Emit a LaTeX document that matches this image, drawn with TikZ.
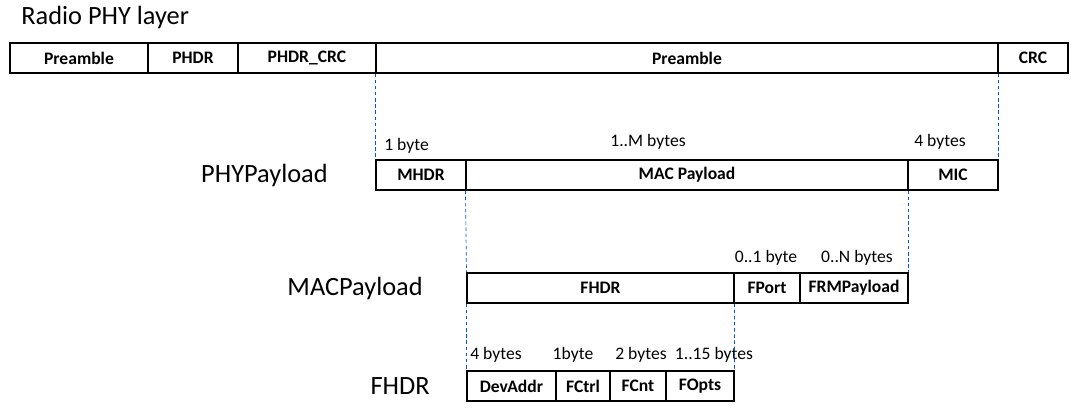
\documentclass[tikz,border=0pt]{standalone}
\usepackage{fontspec}
\setmainfont{Carlito}
\tikzset{
  fieldbox/.style={draw, line width=0.6pt, minimum height=0.6cm, inner sep=0pt,
    font=\bfseries\fontsize{10}{12}\selectfont},
  sizelbl/.style={font=\fontsize{10}{12}\selectfont, inner sep=0pt},
  layerlbl/.style={font=\fontsize{15}{18}\selectfont, inner sep=0pt},
  guide/.style={draw=blue!70!cyan, dash pattern=on 2pt off 1.5pt, line width=0.4pt}
}
% one field of a frame: name, left x, right x, centre y, text
\newcommand{\field}[5]{%
  \node[fieldbox, minimum width={(#3-#2)*0.02cm}] (#1) at ({(#2+#3)/2},#4) {#5};%
}

\begin{document}
\begin{tikzpicture}[x=0.02cm, y=-0.02cm]
  \useasboundingbox (0,0) rectangle (1071,413);

  % radio PHY layer
  \node[layerlbl, anchor=west] (radio) at (21,17) {Radio PHY layer};
  \field{pre}{10}{148}{58}{Preamble}
  \field{phdr}{148}{238}{58}{PHDR}
  \field{phdrcrc}{238}{376}{58}{PHDR\_CRC}
  \field{phypl}{376}{998}{58}{Preamble}
  \field{crc}{998}{1068}{58}{CRC}

  % PHYPayload
  \node[layerlbl, anchor=east] (phylbl) at (328,175) {PHYPayload};
  \field{mhdr}{376}{466}{175}{MHDR}
  \field{macpl}{466}{908}{175}{MAC Payload}
  \field{mic}{908}{998}{175}{MIC}
  \node[sizelbl, anchor=west] (szmhdr) at (384,146) {1 byte};
  \node[sizelbl] (szmacpl) at (648,142) {1..M bytes};
  \node[sizelbl] (szmic) at (940,142) {4 bytes};

  % MACPayload
  \node[layerlbl, anchor=east] (maclbl) at (423,288) {MACPayload};
  \field{fhdr}{467}{734}{288}{FHDR}
  \field{fport}{734}{800}{288}{FPort}
  \field{frmpl}{800}{908}{288}{FRMPayload}
  \node[sizelbl] (szfport) at (766,258) {0..1 byte};
  \node[sizelbl] (szfrmpl) at (857,258) {0..N bytes};

  % FHDR
  \node[layerlbl, anchor=east] (fhdrlbl) at (430,386) {FHDR};
  \field{devaddr}{467}{556}{386}{DevAddr}
  \field{fctrl}{556}{610}{386}{FCtrl}
  \field{fcnt}{610}{666}{386}{FCnt}
  \field{fopts}{666}{734}{386}{FOpts}
  \node[sizelbl, anchor=west] (szdevaddr) at (470,355) {4 bytes};
  \node[sizelbl] (szfctrl) at (573,355) {1byte};
  \node[sizelbl] (szfcnt) at (641,355) {2 bytes};
  \node[sizelbl] (szfopts) at (714,355) {1..15 bytes};

  % guide lines
  \path[guide] (phypl.south west) -- (mhdr.north west);
  \path[guide] (phypl.south east) -- (mic.north east);
  \path[guide] (macpl.south west) -- (fhdr.north west);
  \path[guide] (macpl.south east) -- (frmpl.north east);
  \path[guide] (fhdr.south west) -- (devaddr.north west);
  \path[guide] (fhdr.south east) -- (fopts.north east);
\end{tikzpicture}
\end{document}
